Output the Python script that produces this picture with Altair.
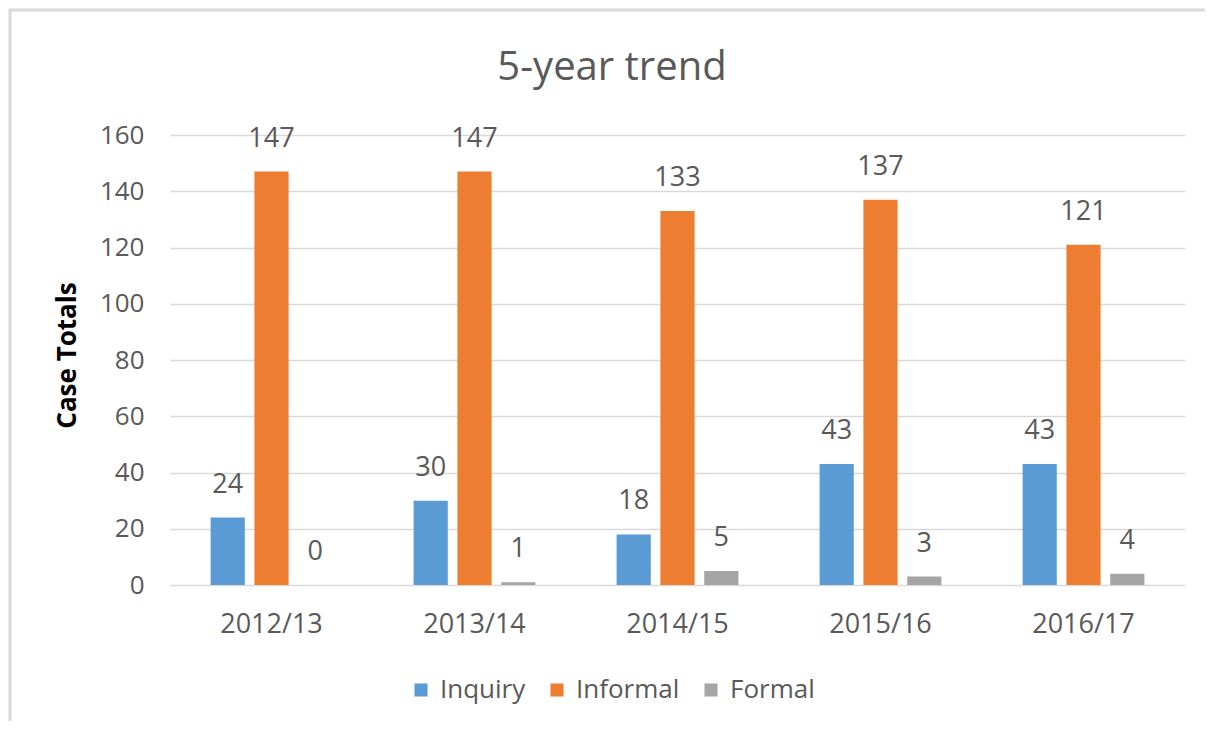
import altair as alt
import pandas as pd

years = ["2012/13", "2013/14", "2014/15", "2015/16", "2016/17"]
series = ["Inquiry", "Informal", "Formal"]
inquiry = [24, 30, 18, 43, 43]
informal = [147, 147, 133, 137, 121]
formal = [0, 1, 5, 3, 4]
colors = ["#5B9BD5", "#ED7D31", "#A5A5A5"]
title_text = "5-year trend"

rows = []
for i, y in enumerate(years):
    for s, vals in zip(series, [inquiry, informal, formal]):
        rows.append({"Year": y, "Type": s, "Value": vals[i]})
df = pd.DataFrame(rows)

FONT = "Open Sans"
GRAY = "#595959"

base = alt.Chart(df).encode(
    x=alt.X("Year:N", sort=years, scale=alt.Scale(paddingInner=0.4, paddingOuter=0.2),
            axis=alt.Axis(title=None, labelAngle=0, labelFontSize=27, labelColor=GRAY,
                          labelFont=FONT, labelPadding=26, ticks=False, domain=False)),
    xOffset=alt.XOffset("Type:N", sort=series, scale=alt.Scale(paddingInner=0.22, paddingOuter=0)),
)

bars = base.mark_bar().encode(
    y=alt.Y("Value:Q", scale=alt.Scale(domain=[0, 160]),
            axis=alt.Axis(title="Case Totals", values=list(range(0, 161, 20)), labelFontSize=26,
                          labelColor=GRAY, labelFont=FONT, labelPadding=26, ticks=False,
                          domain=False, gridColor="#D9D9D9", gridWidth=1.3,
                          titleFont=FONT, titleFontSize=26, titleFontWeight="bold",
                          titleColor="#000000", titlePadding=19, titleY=220)),
    color=alt.Color("Type:N", sort=series, scale=alt.Scale(domain=series, range=colors),
                    legend=alt.Legend(title=None, orient="none", direction="horizontal",
                                      legendX=238, legendY=542, symbolType="square",
                                      symbolSize=170, symbolStrokeWidth=0,
                                      labelFontSize=26, labelColor=GRAY, labelFont=FONT,
                                      columnPadding=18, labelOffset=6)),
)

labels = base.mark_text(baseline="bottom", dy=-19, fontSize=27, color=GRAY, font=FONT).encode(
    y=alt.Y("Value:Q"),
    text=alt.Text("Value:Q"),
)

one = pd.DataFrame({"a": [0]})

frame = alt.Chart(one).mark_rect(
    fillOpacity=0, stroke="#D9D9D9", strokeWidth=3, clip=False
).encode(x=alt.value(-160), x2=alt.value(1060), y=alt.value(-125), y2=alt.value(660))

title = alt.Chart(one).mark_text(
    text=title_text, fontSize=40, font=FONT, color=GRAY, baseline="middle", align="center"
).encode(x=alt.value(442), y=alt.value(-67))

chart = alt.layer(frame, bars, labels, title).properties(
    width=1015, height=450,
    padding={"left": 162, "top": 127, "right": 20, "bottom": 136},
    autosize=alt.AutoSizeParams(type="none"),
).configure_view(stroke=None)

chart.save("out.html", embed_options={"renderer": "svg", "actions": False})
